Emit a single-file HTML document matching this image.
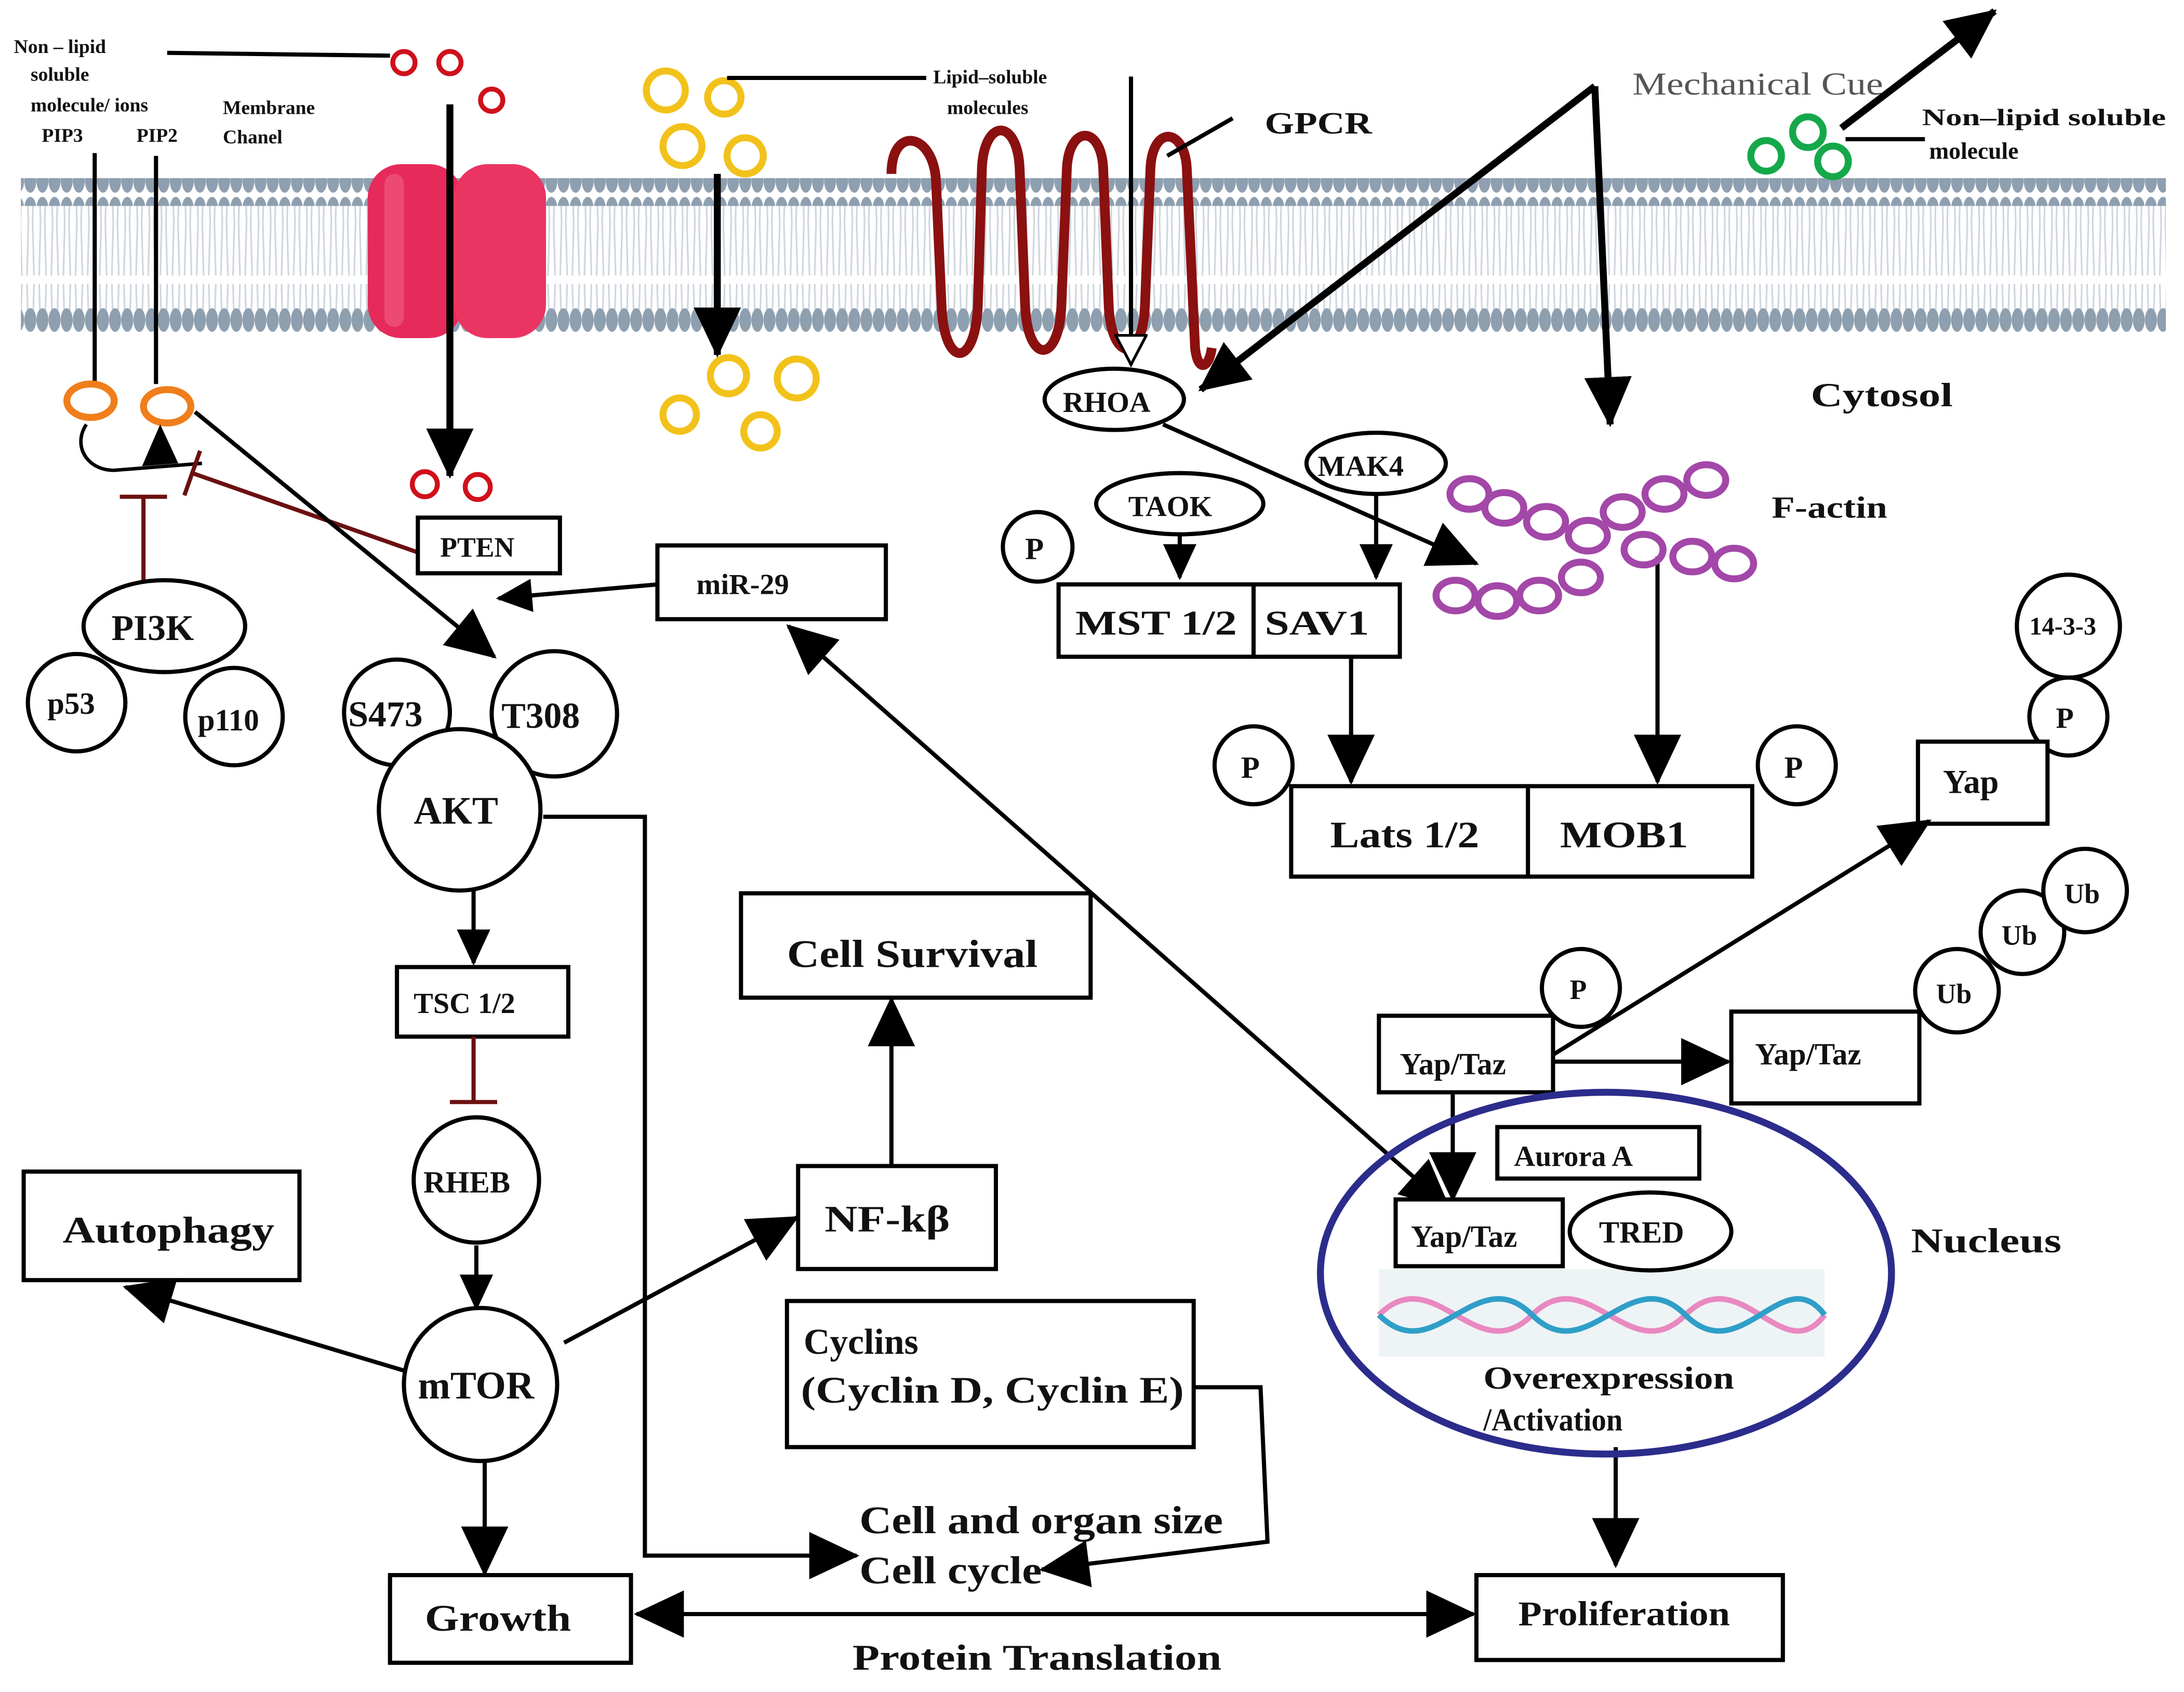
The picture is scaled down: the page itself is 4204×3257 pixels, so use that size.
<!DOCTYPE html>
<html><head><meta charset="utf-8"><style>
html,body{margin:0;padding:0;background:#fff;}
svg{display:block;}
text{font-family:"Liberation Serif",serif;font-weight:bold;fill:#111;}
</style></head><body>
<svg width="4204" height="3257" viewBox="0 0 1568 1216" preserveAspectRatio="none" xmlns="http://www.w3.org/2000/svg">
<defs>
<marker id="a" markerUnits="userSpaceOnUse" markerWidth="36" markerHeight="34" refX="34" refY="17" orient="auto"><path d="M0,0 L36,17 L0,34 Z" fill="#000"/></marker>
<marker id="as" markerUnits="userSpaceOnUse" markerWidth="26" markerHeight="24" refX="24" refY="12" orient="auto"><path d="M0,0 L26,12 L0,24 Z" fill="#000"/></marker>
<marker id="ab" markerUnits="userSpaceOnUse" markerWidth="36" markerHeight="34" refX="2" refY="17" orient="auto"><path d="M36,0 L0,17 L36,34 Z" fill="#000"/></marker>
<marker id="ah" markerUnits="userSpaceOnUse" markerWidth="24" markerHeight="24" refX="22" refY="12" orient="auto"><path d="M1,1 L22,12 L1,23 Z" fill="#fff" stroke="#000" stroke-width="2"/></marker>
<marker id="t" markerUnits="userSpaceOnUse" markerWidth="4" markerHeight="34" refX="2" refY="17" orient="auto"><path d="M2,0 L2,34" stroke="#6b1010" stroke-width="3"/></marker>
<pattern id="heads" width="8.7" height="20" patternUnits="userSpaceOnUse"><ellipse cx="4.35" cy="10" rx="4.3" ry="8.5" fill="#8e9fb0"/></pattern>
<pattern id="tails" width="8.7" height="80" patternUnits="userSpaceOnUse"><path d="M3,0 L2,38 M6,0 L7,38 M2,44 L3,80 M7,44 L6,80" stroke="#cfd6de" stroke-width="1.2" fill="none"/></pattern>
</defs>
<rect width="1568" height="1216" fill="#fff"/>
<rect x="15" y="145" width="1540" height="78" fill="url(#tails)"/>
<rect x="15" y="128" width="1540" height="20" fill="url(#heads)"/>
<rect x="15" y="219" width="1540" height="20" fill="url(#heads)"/>
<rect x="264" y="118" width="68" height="125" rx="24" fill="#e62a5a"/>
<rect x="326" y="118" width="66" height="125" rx="24" fill="#ea3563"/>
<rect x="276" y="125" width="14" height="110" rx="7" fill="#f26a8a" opacity="0.5"/>
<text x="10" y="38" font-size="14">Non – lipid</text>
<text x="22" y="58" font-size="14">soluble</text>
<text x="22" y="80" font-size="14">molecule/ ions</text>
<text x="30" y="102" font-size="14">PIP3</text><text x="98" y="102" font-size="14">PIP2</text>
<text x="160" y="82" font-size="14">Membrane</text><text x="160" y="103" font-size="14">Chanel</text>
<line x1="120" y1="38" x2="280" y2="40" stroke="#000" stroke-width="3"/>
<g fill="none" stroke="#d0101a" stroke-width="3.5"><circle cx="290" cy="45" r="8"/><circle cx="323" cy="45" r="8"/><circle cx="353" cy="72" r="8"/><circle cx="305" cy="348" r="9"/><circle cx="343" cy="350" r="9"/></g>
<line x1="323" y1="75" x2="323" y2="342" stroke="#000" stroke-width="5" marker-end="url(#a)"/>
<g fill="none" stroke="#f2c21b" stroke-width="5"><circle cx="478" cy="65" r="14"/><circle cx="520" cy="70" r="12"/><circle cx="490" cy="105" r="14"/><circle cx="535" cy="112" r="13"/><circle cx="523" cy="270" r="13"/><circle cx="572" cy="272" r="14"/><circle cx="488" cy="298" r="12"/><circle cx="546" cy="310" r="12" /></g>
<line x1="522" y1="56" x2="665" y2="56" stroke="#000" stroke-width="3"/>
<text x="670" y="60" font-size="14">Lipid–soluble</text><text x="680" y="82" font-size="14">molecules</text>
<line x1="515" y1="125" x2="515" y2="255" stroke="#000" stroke-width="5" marker-end="url(#a)"/>
<path d="M640,125 C640,90 670,95 672,130 L676,220 C678,265 700,265 702,220 L705,120 C707,85 730,85 732,120 L736,220 C738,262 760,262 762,220 L766,120 C768,90 790,90 792,120 L796,220 C798,260 820,262 822,220 L826,120 C828,90 850,92 852,120 L858,250 C860,268 868,265 870,250" fill="none" stroke="#8b1010" stroke-width="7"/>
<g lengthAdjust="spacingAndGlyphs">
<text x="908" y="96" font-size="22" textLength="77" lengthAdjust="spacingAndGlyphs">GPCR</text>
<text x="1172" y="68" font-size="23" textLength="180" lengthAdjust="spacingAndGlyphs" style="font-weight:normal;fill:#555">Mechanical Cue</text>
<text x="1380" y="90" font-size="17" textLength="175" lengthAdjust="spacingAndGlyphs">Non–lipid soluble</text><text x="1385" y="114" font-size="17">molecule</text>
<text x="1300" y="292" font-size="24" textLength="102" lengthAdjust="spacingAndGlyphs">Cytosol</text>
</g>
<line x1="812" y1="55" x2="812" y2="262" stroke="#000" stroke-width="3" marker-end="url(#ah)"/>
<line x1="838" y1="112" x2="885" y2="85" stroke="#000" stroke-width="3"/>
<line x1="1145" y1="62" x2="862" y2="280" stroke="#000" stroke-width="5" marker-end="url(#a)"/>
<line x1="1145" y1="62" x2="1156" y2="305" stroke="#000" stroke-width="5" marker-end="url(#a)"/>
<line x1="1322" y1="92" x2="1432" y2="8" stroke="#000" stroke-width="5" marker-end="url(#a)"/>
<g fill="none" stroke="#15a84a" stroke-width="5"><circle cx="1268" cy="112" r="11"/><circle cx="1298" cy="95" r="11"/><circle cx="1316" cy="116" r="11"/></g>
<line x1="1325" y1="100" x2="1382" y2="100" stroke="#000" stroke-width="3"/>
<line x1="68" y1="110" x2="68" y2="274" stroke="#000" stroke-width="3"/>
<line x1="112" y1="112" x2="112" y2="276" stroke="#000" stroke-width="3"/>
<ellipse cx="65" cy="288" rx="17" ry="12" fill="none" stroke="#f07e1c" stroke-width="5"/>
<ellipse cx="120" cy="292" rx="17" ry="12" fill="none" stroke="#f07e1c" stroke-width="5"/>
<path d="M62,305 C52,320 62,338 82,338 L145,333" fill="none" stroke="#000" stroke-width="2.5"/>
<path d="M102,335 L115,305 L128,333 Z" fill="#000"/>
<line x1="103" y1="420" x2="103" y2="357" stroke="#6b1010" stroke-width="3" marker-end="url(#t)"/>
<line x1="300" y1="397" x2="138" y2="340" stroke="#6b1010" stroke-width="3" marker-end="url(#t)"/>
<line x1="140" y1="296" x2="355" y2="472" stroke="#000" stroke-width="3" marker-end="url(#a)"/>
<g fill="#fff" stroke="#000" stroke-width="3">
<ellipse cx="118" cy="450" rx="58" ry="33"/>
<circle cx="55" cy="505" r="35"/><circle cx="168" cy="515" r="35"/>
<rect x="300" y="372" width="102" height="40"/>
<rect x="472" y="392" width="164" height="53"/>
<circle cx="285" cy="512" r="38"/><circle cx="398" cy="513" r="45"/>
<circle cx="330" cy="582" r="58"/>
<rect x="285" y="695" width="123" height="50"/>
<circle cx="342" cy="848" r="45"/>
<circle cx="345" cy="995" r="55"/>
<rect x="17" y="842" width="198" height="78"/>
<rect x="573" y="838" width="142" height="74"/>
<rect x="532" y="642" width="251" height="75"/>
<rect x="280" y="1132" width="173" height="63"/>
<rect x="1060" y="1132" width="220" height="61"/>
<rect x="565" y="935" width="292" height="105"/>
</g>
<text x="80" y="460" font-size="26">PI3K</text>
<text x="34" y="513" font-size="22">p53</text><text x="142" y="525" font-size="22">p110</text>
<text x="316" y="400" font-size="20">PTEN</text>
<text x="500" y="427" font-size="21">miR-29</text>
<text x="250" y="522" font-size="26">S473</text><text x="360" y="523" font-size="26">T308</text>
<text x="297" y="592" font-size="28">AKT</text>
<text x="297" y="728" font-size="21">TSC 1/2</text>
<text x="304" y="857" font-size="22">RHEB</text>
<text x="300" y="1005" font-size="28">mTOR</text>
<text x="45" y="893" font-size="27" textLength="152" lengthAdjust="spacingAndGlyphs">Autophagy</text>
<text x="592" y="885" font-size="27" textLength="90" lengthAdjust="spacingAndGlyphs">NF-kβ</text>
<text x="565" y="695" font-size="28" textLength="180" lengthAdjust="spacingAndGlyphs">Cell Survival</text>
<text x="305" y="1172" font-size="27" textLength="105" lengthAdjust="spacingAndGlyphs">Growth</text>
<text x="1090" y="1168" font-size="25" textLength="152" lengthAdjust="spacingAndGlyphs">Proliferation</text>
<text x="577" y="973" font-size="26">Cyclins</text>
<text x="575" y="1008" font-size="27" textLength="275" lengthAdjust="spacingAndGlyphs">(Cyclin D, Cyclin E)</text>
<text x="612" y="1200" font-size="26" textLength="265" lengthAdjust="spacingAndGlyphs">Protein Translation</text>
<text x="617" y="1102" font-size="28" textLength="261" lengthAdjust="spacingAndGlyphs">Cell and organ size</text>
<text x="617" y="1138" font-size="28" textLength="131" lengthAdjust="spacingAndGlyphs">Cell cycle</text>
<g stroke="#000" stroke-width="3" fill="none">
<line x1="472" y1="420" x2="358" y2="430" marker-end="url(#as)"/>
<line x1="340" y1="640" x2="340" y2="692" marker-end="url(#as)"/>
<line x1="290" y1="985" x2="90" y2="925" marker-end="url(#a)"/>
<line x1="405" y1="965" x2="572" y2="875" marker-end="url(#a)"/>
<line x1="640" y1="838" x2="640" y2="718" marker-end="url(#a)"/>
<line x1="342" y1="895" x2="342" y2="940" marker-end="url(#as)"/>
<line x1="348" y1="1050" x2="348" y2="1131" marker-end="url(#a)"/>
<line x1="457" y1="1160" x2="1058" y2="1160" marker-start="url(#ab)" marker-end="url(#a)"/>
<polyline points="390,587 463,587 463,1118 615,1118" marker-end="url(#a)"/>
<polyline points="857,997 905,997 910,1108 748,1128" marker-end="url(#a)"/>
<line x1="566" y1="450" x2="1040" y2="868" marker-start="url(#ab)" marker-end="url(#a)"/>
</g>
<line x1="340" y1="745" x2="340" y2="792" stroke="#6b1010" stroke-width="3" marker-end="url(#t)"/>
<g fill="#fff" stroke="#000" stroke-width="3">
<ellipse cx="800" cy="287" rx="50" ry="22"/>
<ellipse cx="988" cy="333" rx="50" ry="22"/>
<ellipse cx="847" cy="362" rx="60" ry="22"/>
<circle cx="745" cy="393" r="25"/>
<rect x="760" y="420" width="245" height="52"/>
<circle cx="900" cy="550" r="28"/><circle cx="1290" cy="550" r="28"/>
<rect x="927" y="565" width="331" height="65"/>
<circle cx="1485" cy="450" r="37"/><circle cx="1485" cy="515" r="28"/>
<rect x="1377" y="533" width="93" height="59"/>
<rect x="990" y="730" width="125" height="55"/>
<circle cx="1135" cy="710" r="28"/>
<rect x="1243" y="727" width="135" height="66"/>
<circle cx="1405" cy="712" r="30"/><circle cx="1452" cy="670" r="30"/><circle cx="1497" cy="640" r="30"/>
</g>
<line x1="900" y1="420" x2="900" y2="472" stroke="#000" stroke-width="3"/>
<line x1="1097" y1="565" x2="1097" y2="630" stroke="#000" stroke-width="3"/>
<text x="763" y="296" font-size="21">RHOA</text>
<text x="946" y="342" font-size="21">MAK4</text>
<text x="810" y="371" font-size="21">TAOK</text>
<text x="736" y="402" font-size="22">P</text>
<text x="772" y="456" font-size="25" textLength="116" lengthAdjust="spacingAndGlyphs">MST 1/2</text><text x="908" y="456" font-size="25" textLength="75" lengthAdjust="spacingAndGlyphs">SAV1</text>
<text x="891" y="559" font-size="22">P</text><text x="1281" y="559" font-size="22">P</text>
<text x="955" y="609" font-size="27" textLength="107" lengthAdjust="spacingAndGlyphs">Lats 1/2</text><text x="1120" y="609" font-size="27" textLength="92" lengthAdjust="spacingAndGlyphs">MOB1</text>
<text x="1457" y="456" font-size="18">14-3-3</text><text x="1476" y="523" font-size="21">P</text>
<text x="1395" y="570" font-size="24">Yap</text>
<text x="1005" y="772" font-size="22">Yap/Taz</text><text x="1127" y="718" font-size="20">P</text>
<text x="1260" y="765" font-size="22">Yap/Taz</text>
<text x="1390" y="721" font-size="20">Ub</text><text x="1437" y="679" font-size="20">Ub</text><text x="1482" y="649" font-size="20">Ub</text>
<text x="1272" y="372" font-size="22" textLength="83" lengthAdjust="spacingAndGlyphs">F-actin</text>
<g stroke="#000" stroke-width="3" fill="none">
<line x1="835" y1="305" x2="1060" y2="405" marker-end="url(#a)"/>
<line x1="847" y1="384" x2="847" y2="415" marker-end="url(#as)"/>
<line x1="988" y1="355" x2="988" y2="415" marker-end="url(#as)"/>
<line x1="970" y1="472" x2="970" y2="562" marker-end="url(#a)"/>
<line x1="1190" y1="400" x2="1190" y2="562" marker-end="url(#a)"/>
<line x1="1115" y1="758" x2="1385" y2="590" marker-end="url(#a)"/>
<line x1="1115" y1="763" x2="1241" y2="763" marker-end="url(#a)"/>
<line x1="1043" y1="785" x2="1043" y2="862" marker-end="url(#a)"/>
<line x1="1160" y1="1040" x2="1160" y2="1125" marker-end="url(#a)"/>
</g>
<g fill="none" stroke="#a347a8" stroke-width="5">
<ellipse cx="1055" cy="355" rx="14" ry="11"/><ellipse cx="1080" cy="365" rx="14" ry="11"/><ellipse cx="1110" cy="375" rx="14" ry="11"/><ellipse cx="1140" cy="385" rx="14" ry="11"/><ellipse cx="1165" cy="368" rx="14" ry="11"/><ellipse cx="1195" cy="355" rx="14" ry="11"/><ellipse cx="1225" cy="345" rx="14" ry="11"/>
<ellipse cx="1180" cy="395" rx="14" ry="11"/><ellipse cx="1215" cy="400" rx="14" ry="11"/><ellipse cx="1245" cy="405" rx="14" ry="11"/>
<ellipse cx="1135" cy="415" rx="14" ry="11"/><ellipse cx="1105" cy="428" rx="14" ry="11"/><ellipse cx="1075" cy="432" rx="14" ry="11"/><ellipse cx="1045" cy="428" rx="14" ry="11"/>
</g>
<ellipse cx="1153" cy="915" rx="205" ry="130" fill="none" stroke="#2c2c8c" stroke-width="5"/>
<rect x="990" y="912" width="320" height="63" fill="#eef3f6"/>
<path d="M990,945 C1030,905 1060,985 1100,945 C1140,905 1170,985 1210,945 C1250,905 1280,985 1310,945" fill="none" stroke="#e889c0" stroke-width="4"/>
<path d="M990,945 C1030,985 1060,905 1100,945 C1140,985 1170,905 1210,945 C1250,985 1280,905 1310,945" fill="none" stroke="#2f9fc8" stroke-width="4"/>
<g fill="#fff" stroke="#000" stroke-width="3">
<rect x="1075" y="810" width="145" height="37"/>
<rect x="1002" y="862" width="120" height="48"/>
<ellipse cx="1185" cy="885" rx="58" ry="28"/>
</g>
<text x="1087" y="838" font-size="21">Aurora A</text>
<text x="1013" y="896" font-size="22">Yap/Taz</text>
<text x="1148" y="893" font-size="22">TRED</text>
<text x="1065" y="998" font-size="23" textLength="180" lengthAdjust="spacingAndGlyphs">Overexpression</text>
<text x="1065" y="1028" font-size="23" textLength="100" lengthAdjust="spacingAndGlyphs">/Activation</text>
<text x="1372" y="900" font-size="25" textLength="108" lengthAdjust="spacingAndGlyphs">Nucleus</text>
</svg>
</body></html>
